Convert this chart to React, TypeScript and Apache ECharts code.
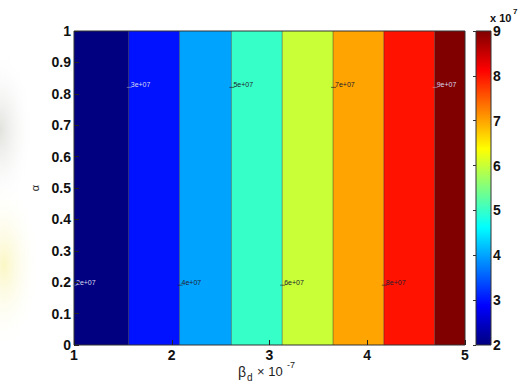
import React, { useEffect, useRef } from "react";
import * as echarts from "echarts";

// Contour levels of the filled plot (values in units of 10^7)
const contourLevels = [2, 3, 4, 5, 6, 7, 8, 9];
// Band edges along β_d (units of 10^-7): band i spans bandEdges[i]..bandEdges[i+1]
const bandEdges = [1, 1.56, 2.08, 2.61, 3.13, 3.65, 4.17, 4.69, 5];
// Inline contour labels
const labelTexts = ["2e+07", "3e+07", "4e+07", "5e+07", "6e+07", "7e+07", "8e+07", "9e+07"];
const labelBeta = [1.0, 1.56, 2.08, 2.61, 3.13, 3.65, 4.17, 4.69];
const labelAlpha = [0.2, 0.83, 0.2, 0.83, 0.2, 0.83, 0.2, 0.83];
const labelLight = [true, true, false, false, false, false, false, true];
// Axis ranges and ticks
const xTicks = [1, 2, 3, 4, 5];
const yTicks = [0, 0.1, 0.2, 0.3, 0.4, 0.5, 0.6, 0.7, 0.8, 0.9, 1];
const colorbarTicks = [2, 3, 4, 5, 6, 7, 8, 9];

const FONT = "Liberation Sans, Arial, sans-serif";

// MATLAB "jet" colormap, t in [0, 1]
function jet(t: number): string {
  const c = (v: number) => Math.round(255 * Math.max(0, Math.min(1, v)));
  return `rgb(${c(1.5 - Math.abs(4 * t - 3))},${c(1.5 - Math.abs(4 * t - 2))},${c(
    1.5 - Math.abs(4 * t - 1)
  )})`;
}

const cMin = colorbarTicks[0];
const cMax = colorbarTicks[colorbarTicks.length - 1];
const levelColor = (v: number) => jet((v - cMin) / (cMax - cMin));

export default function App() {
  const ref = useRef<HTMLDivElement>(null);

  useEffect(() => {
    if (!ref.current) return;
    const chart = echarts.init(ref.current, undefined, { renderer: "svg" });

    const bands = contourLevels.map((lv, i) => [bandEdges[i], bandEdges[i + 1], lv]);
    const labels = labelTexts.map((t, i) => [labelBeta[i], labelAlpha[i], i]);

    const gradStops: { offset: number; color: string }[] = [];
    for (let k = 0; k <= 64; k++) {
      gradStops.push({ offset: k / 64, color: jet(1 - k / 64) });
    }

    const tickLabel = { fontFamily: FONT, fontWeight: "bold" as const, fontSize: 14, color: "#111" };

    chart.setOption({
      animation: false,
      backgroundColor: "#ffffff",
      grid: [
        { left: 74, right: 61, top: 31, bottom: 40, show: true, borderColor: "#333", borderWidth: 1, z: 5 },
        { left: 476, width: 15, top: 31, bottom: 40, show: true, borderColor: "#333", borderWidth: 1, z: 5 },
      ],
      xAxis: [
        {
          gridIndex: 0,
          type: "value",
          min: xTicks[0],
          max: xTicks[xTicks.length - 1],
          interval: 1,
          z: 10,
          axisLine: { show: false },
          axisTick: { show: true, inside: true, length: 5, lineStyle: { color: "#222" } },
          splitLine: { show: false },
          axisLabel: { ...tickLabel, margin: 3 },
        },
        {
          gridIndex: 1,
          type: "value",
          min: 0,
          max: 1,
          show: false,
        },
      ],
      yAxis: [
        {
          gridIndex: 0,
          type: "value",
          min: yTicks[0],
          max: yTicks[yTicks.length - 1],
          interval: 0.1,
          z: 10,
          name: "α",
          nameLocation: "middle",
          nameGap: 26,
          nameRotate: 90,
          nameTextStyle: { fontFamily: FONT, fontSize: 11, color: "#222" },
          axisLine: { show: false },
          axisTick: { show: true, inside: true, length: 5, lineStyle: { color: "#222" } },
          splitLine: { show: false },
          axisLabel: { ...tickLabel, margin: 3 },
        },
        {
          gridIndex: 1,
          type: "value",
          position: "right",
          min: cMin,
          max: cMax,
          interval: 1,
          z: 10,
          axisLine: { show: false },
          axisTick: { show: true, inside: true, length: 3, lineStyle: { color: "#333" } },
          splitLine: { show: false },
          axisLabel: { ...tickLabel, margin: 2 },
        },
      ],
      series: [
        {
          type: "custom",
          xAxisIndex: 0,
          yAxisIndex: 0,
          z: 2,
          encode: { x: [0, 1] },
          data: bands,
          renderItem: (params: any, api: any) => {
            const x0 = api.value(0);
            const x1 = api.value(1);
            const lv = api.value(2);
            const p0 = api.coord([x0, yTicks[yTicks.length - 1]]);
            const p1 = api.coord([x1, yTicks[0]]);
            const children: any[] = [
              {
                type: "rect",
                shape: { x: p0[0], y: p0[1], width: p1[0] - p0[0], height: p1[1] - p0[1] },
                style: { fill: levelColor(lv) },
              },
            ];
            if (x0 > xTicks[0]) {
              children.push({
                type: "line",
                shape: { x1: p0[0], y1: p0[1], x2: p0[0], y2: p1[1] },
                style: { stroke: "rgba(40,40,40,0.45)", lineWidth: 1 },
              });
            }
            return { type: "group", children };
          },
        },
        {
          type: "custom",
          xAxisIndex: 0,
          yAxisIndex: 0,
          z: 3,
          data: labels,
          renderItem: (params: any, api: any) => {
            const i = api.value(2);
            const p = api.coord([api.value(0), api.value(1)]);
            const light = labelLight[i];
            return {
              type: "group",
              children: [
                {
                  type: "line",
                  shape: { x1: p[0] - 2, y1: p[1] + 3, x2: p[0] + 3, y2: p[1] + 3 },
                  style: { stroke: light ? "rgba(200,200,230,0.6)" : "rgba(30,30,40,0.8)", lineWidth: 0.8 },
                },
                {
                  type: "text",
                  x: p[0] + 2,
                  y: p[1],
                  style: {
                    text: labelTexts[i],
                    fontFamily: FONT,
                    fontSize: 7,
                    fill: light ? "#d8d8ee" : "#202030",
                    align: "left",
                    verticalAlign: "middle",
                  },
                },
              ],
            };
          },
        },
        {
          type: "custom",
          xAxisIndex: 1,
          yAxisIndex: 1,
          z: 2,
          data: [[0, 1, cMin, cMax]],
          renderItem: (params: any, api: any) => {
            const pTop = api.coord([api.value(0), api.value(3)]);
            const pBot = api.coord([api.value(1), api.value(2)]);
            return {
              type: "rect",
              shape: { x: pTop[0], y: pTop[1], width: pBot[0] - pTop[0], height: pBot[1] - pTop[1] },
              style: {
                fill: new echarts.graphic.LinearGradient(0, 0, 0, 1, gradStops),
              },
            };
          },
        },
      ],
      graphic: [
        // faint backdrop tint along the left edge
        {
          type: "ellipse",
          z: -10,
          shape: { cx: 0, cy: 130, rx: 34, ry: 80 },
          style: {
            fill: new echarts.graphic.RadialGradient(0.5, 0.5, 0.5, [
              { offset: 0, color: "rgba(215,215,210,0.75)" },
              { offset: 1, color: "rgba(255,255,255,0)" },
            ]),
          },
        },
        {
          type: "ellipse",
          z: -10,
          shape: { cx: 4, cy: 265, rx: 36, ry: 85 },
          style: {
            fill: new echarts.graphic.RadialGradient(0.5, 0.5, 0.5, [
              { offset: 0, color: "rgba(250,246,190,0.9)" },
              { offset: 1, color: "rgba(255,255,255,0)" },
            ]),
          },
        },
        // colorbar exponent
        {
          type: "text",
          left: 490,
          top: 12,
          style: { text: "x 10", fontFamily: FONT, fontWeight: "bold", fontSize: 11, fill: "#111" },
        },
        {
          type: "text",
          left: 513,
          top: 7,
          style: { text: "7", fontFamily: FONT, fontWeight: "bold", fontSize: 8, fill: "#111" },
        },
        // x-axis title: β_d × 10^-7
        {
          type: "text",
          left: 238,
          top: 365,
          style: { text: "β", fontFamily: FONT, fontSize: 14, fill: "#222" },
        },
        {
          type: "text",
          left: 247,
          top: 372,
          style: { text: "d", fontFamily: FONT, fontSize: 10, fill: "#222" },
        },
        {
          type: "text",
          left: 257,
          top: 365,
          style: { text: "× 10", fontFamily: FONT, fontSize: 13, fill: "#222" },
        },
        {
          type: "text",
          left: 287,
          top: 360,
          style: { text: "-7", fontFamily: FONT, fontSize: 9, fill: "#222" },
        },
      ],
    });

    return () => chart.dispose();
  }, []);

  return (
    <div
      ref={ref}
      style={{ position: "absolute", left: 0, top: 0, width: 526, height: 385 }}
    />
  );
}
